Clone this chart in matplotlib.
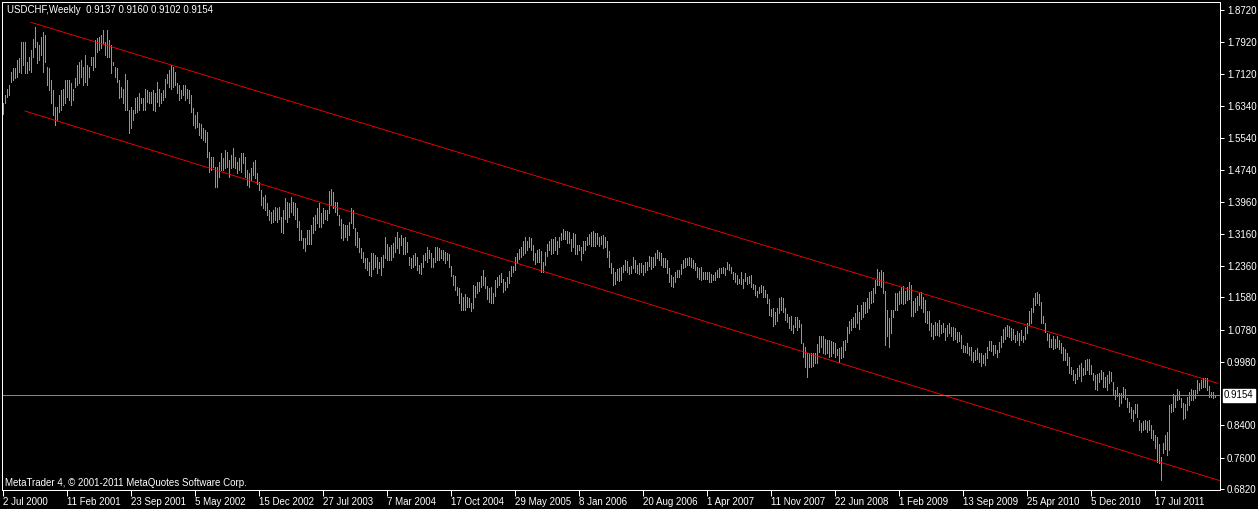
import numpy as np
import matplotlib
matplotlib.use("Agg")
import matplotlib.pyplot as plt
import matplotlib.transforms as mtransforms

plt.rcParams['font.family'] = ['Liberation Sans', 'DejaVu Sans']

# USDCHF weekly bars, 2 Jul 2000 .. Feb 2012
symbol = "USDCHF,Weekly"
last_ohlc = [0.9137, 0.9160, 0.9102, 0.9154]

high = [
    1.640, 1.662, 1.677, 1.686, 1.719, 1.727, 1.727, 1.748, 1.752, 1.793,
    1.793, 1.793, 1.744, 1.756, 1.773, 1.799, 1.831, 1.793, 1.785, 1.806,
    1.818, 1.810, 1.731, 1.727, 1.698, 1.673, 1.632, 1.632, 1.661, 1.673,
    1.677, 1.698, 1.698, 1.698, 1.690, 1.677, 1.702, 1.735, 1.744, 1.748,
    1.731, 1.760, 1.735, 1.731, 1.756, 1.756, 1.797, 1.802, 1.806, 1.810,
    1.822, 1.793, 1.822, 1.797, 1.785, 1.744, 1.731, 1.727, 1.698, 1.682,
    1.677, 1.713, 1.698, 1.624, 1.632, 1.624, 1.653, 1.657, 1.665, 1.653,
    1.653, 1.677, 1.673, 1.669, 1.669, 1.673, 1.665, 1.694, 1.677, 1.665,
    1.673, 1.700, 1.712, 1.722, 1.735, 1.730, 1.718, 1.690, 1.686, 1.673,
    1.686, 1.686, 1.677, 1.673, 1.661, 1.628, 1.611, 1.619, 1.592, 1.590,
    1.578, 1.574, 1.570, 1.520, 1.508, 1.508, 1.483, 1.481, 1.495, 1.516,
    1.504, 1.524, 1.520, 1.499, 1.512, 1.528, 1.508, 1.495, 1.504, 1.516,
    1.518, 1.508, 1.475, 1.466, 1.479, 1.495, 1.499, 1.466, 1.446, 1.425,
    1.408, 1.412, 1.392, 1.375, 1.371, 1.375, 1.383, 1.379, 1.383, 1.359,
    1.375, 1.404, 1.396, 1.392, 1.408, 1.396, 1.392, 1.379, 1.349, 1.325,
    1.305, 1.305, 1.325, 1.325, 1.338, 1.359, 1.363, 1.379, 1.393, 1.367,
    1.379, 1.375, 1.375, 1.423, 1.427, 1.421, 1.396, 1.396, 1.363, 1.354,
    1.340, 1.338, 1.338, 1.346, 1.379, 1.375, 1.330, 1.321, 1.305, 1.280,
    1.272, 1.255, 1.255, 1.247, 1.268, 1.268, 1.263, 1.259, 1.247, 1.259,
    1.263, 1.309, 1.291, 1.284, 1.288, 1.294, 1.309, 1.321, 1.305, 1.313,
    1.305, 1.309, 1.296, 1.259, 1.255, 1.263, 1.268, 1.258, 1.239, 1.243,
    1.263, 1.268, 1.284, 1.276, 1.268, 1.255, 1.284, 1.284, 1.280, 1.276,
    1.276, 1.272, 1.268, 1.266, 1.236, 1.214, 1.211, 1.183, 1.181, 1.168,
    1.160, 1.167, 1.160, 1.156, 1.145, 1.189, 1.186, 1.197, 1.197, 1.211,
    1.226, 1.208, 1.186, 1.181, 1.183, 1.168, 1.201, 1.208, 1.213, 1.218,
    1.204, 1.197, 1.210, 1.224, 1.236, 1.236, 1.259, 1.268, 1.278, 1.284,
    1.299, 1.307, 1.299, 1.307, 1.305, 1.288, 1.268, 1.276, 1.278, 1.274,
    1.247, 1.272, 1.291, 1.299, 1.302, 1.303, 1.307, 1.297, 1.307, 1.317,
    1.328, 1.324, 1.323, 1.320, 1.303, 1.317, 1.316, 1.288, 1.288, 1.284,
    1.299, 1.299, 1.309, 1.316, 1.321, 1.323, 1.317, 1.317, 1.309, 1.311,
    1.313, 1.309, 1.297, 1.273, 1.244, 1.230, 1.222, 1.228, 1.230, 1.234,
    1.239, 1.251, 1.249, 1.234, 1.236, 1.258, 1.251, 1.239, 1.243, 1.243,
    1.239, 1.247, 1.247, 1.261, 1.258, 1.258, 1.268, 1.276, 1.272, 1.268,
    1.255, 1.255, 1.251, 1.230, 1.214, 1.210, 1.222, 1.226, 1.226, 1.240,
    1.251, 1.255, 1.255, 1.258, 1.255, 1.251, 1.243, 1.234, 1.230, 1.234,
    1.222, 1.222, 1.222, 1.222, 1.216, 1.214, 1.222, 1.226, 1.230, 1.230,
    1.234, 1.230, 1.247, 1.240, 1.234, 1.222, 1.218, 1.214, 1.205, 1.222,
    1.205, 1.218, 1.210, 1.211, 1.214, 1.191, 1.189, 1.175, 1.185, 1.189,
    1.186, 1.176, 1.167, 1.153, 1.129, 1.133, 1.123, 1.131, 1.156, 1.160,
    1.156, 1.131, 1.117, 1.109, 1.112, 1.090, 1.109, 1.110, 1.102, 1.092,
    1.044, 1.036, 1.021, 1.019, 1.019, 1.021, 1.021, 1.042, 1.061, 1.061,
    1.062, 1.054, 1.052, 1.052, 1.051, 1.048, 1.044, 1.029, 1.032, 1.034,
    1.051, 1.052, 1.085, 1.100, 1.104, 1.109, 1.119, 1.139, 1.123, 1.139,
    1.147, 1.147, 1.156, 1.172, 1.175, 1.181, 1.201, 1.228, 1.222, 1.226,
    1.220, 1.175, 1.127, 1.106, 1.127, 1.127, 1.170, 1.168, 1.175, 1.185,
    1.186, 1.175, 1.185, 1.197, 1.189, 1.149, 1.156, 1.162, 1.168, 1.172,
    1.160, 1.152, 1.125, 1.125, 1.094, 1.090, 1.098, 1.094, 1.102, 1.090,
    1.094, 1.081, 1.090, 1.094, 1.084, 1.085, 1.081, 1.071, 1.071, 1.065,
    1.040, 1.037, 1.044, 1.034, 1.036, 1.023, 1.027, 1.032, 1.019, 1.019,
    1.015, 1.019, 1.036, 1.051, 1.051, 1.040, 1.040, 1.027, 1.048, 1.062,
    1.079, 1.085, 1.090, 1.087, 1.081, 1.079, 1.065, 1.075, 1.069, 1.077,
    1.061, 1.085, 1.094, 1.125, 1.133, 1.156, 1.170, 1.172, 1.167, 1.147,
    1.112, 1.094, 1.069, 1.066, 1.056, 1.062, 1.056, 1.062, 1.052, 1.044,
    1.036, 1.029, 1.019, 1.011, 0.986, 0.978, 0.969, 0.982, 0.990, 0.994,
    0.982, 1.003, 1.004, 1.004, 0.990, 0.971, 0.965, 0.968, 0.971, 0.978,
    0.974, 0.961, 0.965, 0.976, 0.974, 0.949, 0.928, 0.936, 0.921, 0.920,
    0.935, 0.930, 0.907, 0.899, 0.887, 0.878, 0.893, 0.893, 0.854, 0.845,
    0.852, 0.854, 0.852, 0.854, 0.841, 0.829, 0.816, 0.812, 0.794, 0.762,
    0.796, 0.816, 0.825, 0.891, 0.893, 0.918, 0.916, 0.930, 0.926, 0.907,
    0.895, 0.893, 0.911, 0.924, 0.930, 0.928, 0.928, 0.953, 0.946, 0.953,
    0.959, 0.957, 0.957, 0.938, 0.924, 0.924, 0.916,
]

low = [
    1.613, 1.640, 1.657, 1.661, 1.694, 1.698, 1.702, 1.706, 1.719, 1.715,
    1.735, 1.715, 1.715, 1.723, 1.719, 1.756, 1.781, 1.740, 1.748, 1.760,
    1.719, 1.744, 1.686, 1.673, 1.640, 1.611, 1.586, 1.599, 1.619, 1.624,
    1.636, 1.640, 1.657, 1.648, 1.636, 1.648, 1.682, 1.686, 1.690, 1.706,
    1.686, 1.694, 1.686, 1.706, 1.735, 1.723, 1.731, 1.768, 1.773, 1.777,
    1.789, 1.760, 1.756, 1.756, 1.715, 1.735, 1.706, 1.694, 1.653, 1.657,
    1.640, 1.624, 1.624, 1.566, 1.578, 1.599, 1.615, 1.619, 1.624, 1.640,
    1.624, 1.624, 1.644, 1.640, 1.640, 1.624, 1.622, 1.644, 1.634, 1.640,
    1.648, 1.657, 1.690, 1.682, 1.677, 1.682, 1.686, 1.665, 1.648, 1.653,
    1.661, 1.648, 1.653, 1.640, 1.619, 1.586, 1.578, 1.582, 1.561, 1.553,
    1.549, 1.545, 1.508, 1.470, 1.475, 1.483, 1.433, 1.433, 1.458, 1.475,
    1.475, 1.479, 1.483, 1.458, 1.479, 1.483, 1.479, 1.466, 1.475, 1.470,
    1.491, 1.458, 1.437, 1.433, 1.450, 1.462, 1.454, 1.441, 1.425, 1.388,
    1.379, 1.375, 1.363, 1.350, 1.342, 1.346, 1.350, 1.346, 1.354, 1.321,
    1.317, 1.354, 1.346, 1.359, 1.371, 1.363, 1.354, 1.334, 1.301, 1.301,
    1.280, 1.273, 1.292, 1.291, 1.292, 1.317, 1.325, 1.342, 1.334, 1.334,
    1.342, 1.354, 1.350, 1.367, 1.388, 1.379, 1.371, 1.363, 1.338, 1.305,
    1.301, 1.309, 1.301, 1.313, 1.342, 1.330, 1.288, 1.284, 1.272, 1.255,
    1.247, 1.230, 1.226, 1.214, 1.211, 1.228, 1.233, 1.218, 1.230, 1.214,
    1.234, 1.255, 1.251, 1.251, 1.251, 1.259, 1.272, 1.280, 1.268, 1.288,
    1.266, 1.266, 1.272, 1.239, 1.230, 1.234, 1.239, 1.226, 1.218, 1.216,
    1.234, 1.251, 1.247, 1.255, 1.234, 1.234, 1.247, 1.251, 1.251, 1.255,
    1.251, 1.243, 1.251, 1.234, 1.211, 1.189, 1.176, 1.164, 1.143, 1.128,
    1.127, 1.127, 1.135, 1.135, 1.125, 1.133, 1.160, 1.170, 1.175, 1.183,
    1.189, 1.181, 1.153, 1.147, 1.145, 1.145, 1.162, 1.183, 1.189, 1.197,
    1.172, 1.176, 1.185, 1.193, 1.211, 1.222, 1.226, 1.243, 1.253, 1.259,
    1.263, 1.268, 1.276, 1.284, 1.277, 1.251, 1.240, 1.247, 1.247, 1.222,
    1.222, 1.239, 1.261, 1.277, 1.266, 1.268, 1.276, 1.266, 1.284, 1.301,
    1.304, 1.302, 1.294, 1.294, 1.274, 1.284, 1.265, 1.266, 1.276, 1.251,
    1.268, 1.276, 1.288, 1.292, 1.287, 1.287, 1.286, 1.292, 1.286, 1.292,
    1.280, 1.284, 1.259, 1.234, 1.218, 1.189, 1.191, 1.201, 1.200, 1.201,
    1.222, 1.226, 1.220, 1.216, 1.218, 1.230, 1.222, 1.218, 1.216, 1.220,
    1.214, 1.222, 1.226, 1.236, 1.228, 1.234, 1.239, 1.255, 1.251, 1.239,
    1.234, 1.234, 1.218, 1.197, 1.186, 1.185, 1.197, 1.210, 1.210, 1.216,
    1.230, 1.234, 1.239, 1.239, 1.234, 1.230, 1.225, 1.210, 1.203, 1.201,
    1.205, 1.203, 1.205, 1.197, 1.197, 1.201, 1.201, 1.210, 1.210, 1.218,
    1.218, 1.214, 1.228, 1.226, 1.218, 1.205, 1.197, 1.191, 1.193, 1.191,
    1.181, 1.200, 1.191, 1.195, 1.185, 1.178, 1.164, 1.160, 1.168, 1.172,
    1.160, 1.160, 1.145, 1.114, 1.112, 1.087, 1.092, 1.100, 1.120, 1.127,
    1.123, 1.102, 1.098, 1.081, 1.077, 1.069, 1.085, 1.077, 1.084, 1.044,
    1.011, 0.984, 0.961, 0.986, 0.984, 0.988, 0.994, 0.996, 1.023, 1.036,
    1.021, 1.017, 1.019, 1.011, 1.013, 1.021, 1.009, 1.015, 0.998, 1.007,
    1.011, 1.027, 1.048, 1.069, 1.077, 1.084, 1.085, 1.094, 1.079, 1.104,
    1.109, 1.120, 1.123, 1.133, 1.143, 1.147, 1.168, 1.189, 1.189, 1.185,
    1.168, 1.040, 1.061, 1.034, 1.069, 1.109, 1.127, 1.127, 1.142, 1.143,
    1.142, 1.145, 1.152, 1.153, 1.112, 1.112, 1.123, 1.127, 1.139, 1.131,
    1.123, 1.098, 1.094, 1.077, 1.061, 1.054, 1.065, 1.065, 1.061, 1.069,
    1.073, 1.052, 1.061, 1.069, 1.062, 1.052, 1.056, 1.048, 1.051, 1.032,
    1.023, 1.023, 1.019, 1.015, 1.003, 0.998, 1.003, 1.004, 0.998, 0.988,
    0.994, 0.990, 1.007, 1.027, 1.026, 1.015, 1.019, 1.011, 1.023, 1.034,
    1.048, 1.056, 1.062, 1.059, 1.052, 1.056, 1.048, 1.052, 1.040, 1.052,
    1.048, 1.056, 1.069, 1.089, 1.094, 1.123, 1.139, 1.143, 1.139, 1.094,
    1.094, 1.071, 1.052, 1.036, 1.034, 1.029, 1.032, 1.036, 1.029, 1.019,
    1.003, 1.003, 0.990, 0.971, 0.968, 0.953, 0.945, 0.955, 0.963, 0.951,
    0.965, 0.969, 0.979, 0.969, 0.968, 0.953, 0.930, 0.928, 0.949, 0.955,
    0.936, 0.935, 0.928, 0.945, 0.951, 0.918, 0.905, 0.913, 0.888, 0.895,
    0.911, 0.905, 0.887, 0.874, 0.858, 0.852, 0.870, 0.862, 0.829, 0.825,
    0.829, 0.830, 0.825, 0.829, 0.808, 0.804, 0.783, 0.750, 0.746, 0.704,
    0.771, 0.781, 0.767, 0.779, 0.874, 0.877, 0.887, 0.903, 0.905, 0.887,
    0.855, 0.858, 0.878, 0.891, 0.903, 0.903, 0.907, 0.920, 0.928, 0.932,
    0.935, 0.936, 0.928, 0.911, 0.911, 0.907, 0.910,
]

date_labels = ['2 Jul 2000', '11 Feb 2001', '23 Sep 2001', '5 May 2002', '15 Dec 2002',
               '27 Jul 2003', '7 Mar 2004', '17 Oct 2004', '29 May 2005', '8 Jan 2006',
               '20 Aug 2006', '1 Apr 2007', '11 Nov 2007', '22 Jun 2008', '1 Feb 2009',
               '13 Sep 2009', '25 Apr 2010', '5 Dec 2010', '17 Jul 2011']
label_every = 32   # weeks between date labels

price_labels = [1.8720, 1.7920, 1.7120, 1.6340, 1.5540, 1.4740, 1.3960, 1.3160,
                1.2360, 1.1580, 1.0780, 0.9980, 0.8400, 0.7600, 0.6820]

# trend lines (bar index, price)
upper_line = [(14, 1.8414), (607.5, 0.9447)]
lower_line = [(11, 1.6211), (608.5, 0.7028)]

W, H = 1258, 509
px = 72.0 / 100   # one pixel in points
fig = plt.figure(figsize=(W / 100, H / 100), dpi=100, facecolor='black')
ax = fig.add_axes([2 / W, 19 / H, 1218 / W, 488 / H])
ax.set_facecolor('black')

weeks = np.arange(len(high))
ax.vlines(weeks, low, high, colors='#00ff00', linewidth=px, antialiased=False)

for line in (upper_line, lower_line):
    xs, ys = zip(*line)
    ax.plot(xs, ys, color='#ff0000', linewidth=0.85 * px, antialiased=True)

ax.axhline(last_ohlc[3], color='#778899', linewidth=px, antialiased=False)

ax.set_xlim(-0.5, 608.5)
ax.set_ylim(0.6797, 1.8919)

for sp in ax.spines.values():
    sp.set_color('white')
    sp.set_linewidth(px)

ax.yaxis.tick_right()
ax.set_yticks(price_labels)
ax.set_yticklabels(['%.4f' % p for p in price_labels])
ax.tick_params(axis='y', direction='out', length=3, width=px, colors='white',
               labelsize=7, pad=2)

ax.set_xticks(weeks[::label_every][:len(date_labels)])
ax.set_xticklabels(date_labels, ha='left')
ax.tick_params(axis='x', direction='out', length=4, width=px, colors='white',
               labelsize=7, pad=1)

# last price tag on the price scale
trans = mtransforms.blended_transform_factory(ax.transAxes, ax.transData)
ax.text(1.0 + 4 / 1218, last_ohlc[3], '%.4f' % last_ohlc[3], transform=trans,
        color='black', fontsize=7, va='center', ha='left', clip_on=False,
        bbox=dict(boxstyle='square,pad=0.15', facecolor='white', edgecolor='white'))

ax.text(5 / 1218, 1 - 8 / 488,
        '%s  %.4f %.4f %.4f %.4f' % ((symbol,) + tuple(last_ohlc)),
        transform=ax.transAxes, color='white', fontsize=7, va='center', ha='left')
ax.text(3 / 1218, 7 / 488, 'MetaTrader 4, \u00a9 2001-2011 MetaQuotes Software Corp.',
        transform=ax.transAxes, color='white', fontsize=7, va='center', ha='left')

fig.savefig('out.png', dpi=100, facecolor='black')
